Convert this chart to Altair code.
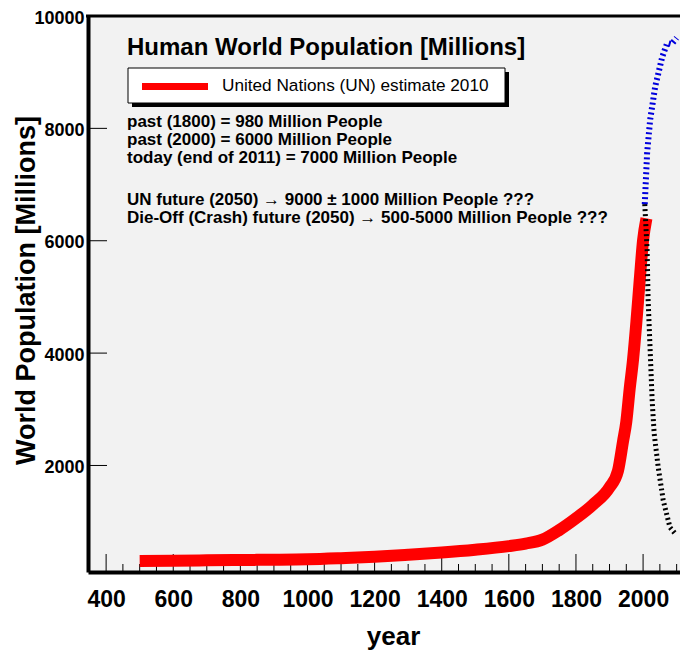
import altair as alt
import pandas as pd

# ---- data ----
red_years = [500, 600, 700, 800, 900, 1000, 1100, 1200, 1300, 1400, 1500, 1600, 1650,
             1700, 1750, 1800, 1850, 1900, 1925, 1940, 1950, 1960, 1970, 1980, 1990, 2000, 2010]
red_vals = [300, 305, 312, 318, 322, 330, 350, 375, 410, 450, 500, 565, 610,
            680, 850, 1060, 1300, 1610, 1900, 2420, 2780, 3360, 3880, 4550, 5300, 6010, 6400]

blue_years = [2005, 2012, 2021, 2036, 2057, 2072, 2085, 2100]
blue_vals = [6650, 7560, 8150, 8740, 9270, 9520, 9500, 9610]

black_years = [2005, 2012, 2015, 2021, 2027, 2033, 2045, 2060, 2080, 2095]
black_vals = [6650, 5840, 4950, 4060, 3160, 2570, 1970, 1380, 900, 790]

x_major = [400, 600, 800, 1000, 1200, 1400, 1600, 1800, 2000]
x_minor = [y for y in range(450, 2101, 50) if y % 200 != 0]
y_major = [2000, 4000, 6000, 8000, 10000]

title_text = "Human World Population [Millions]"
legend_text = "United Nations (UN) estimate 2010"
info_lines = [
    "past (1800) = 980 Million People",
    "past (2000) = 6000 Million People",
    "today (end of 2011) = 7000 Million People",
    "UN future (2050) \u2192 9000 \u00b1 1000 Million People ???",
    "Die-Off (Crash) future (2050) \u2192 500-5000 Million People ???",
]

FONT = "Liberation Sans"
W, H = 592, 556

xs = alt.Scale(domain=[346, 2110], nice=False, zero=False)
ys = alt.Scale(domain=[104, 10000], nice=False, zero=False)

red_df = pd.DataFrame({"year": red_years, "pop": red_vals})
blue_df = pd.DataFrame({"year": blue_years, "pop": blue_vals})
black_df = pd.DataFrame({"year": black_years, "pop": black_vals})
one = pd.DataFrame({"a": [0]})

base_axes = alt.Chart(red_df).mark_line(opacity=0).encode(
    x=alt.X("year:Q", scale=xs,
            axis=alt.Axis(title="year", values=x_major, format="d", ticks=False,
                          domainColor="black", domainWidth=4, grid=False,
                          labelFont=FONT, labelFontSize=23, labelFontWeight="bold",
                          labelColor="black", labelPadding=16,
                          titleFont=FONT, titleFontSize=26, titleFontWeight="bold",
                          titleColor="black", titleX=305, titleY=72,
                          titleBaseline="alphabetic", titleAlign="center")),
    y=alt.Y("pop:Q", scale=ys,
            axis=alt.Axis(title="World Population [Millions]", values=y_major, format="d",
                          ticks=False, domainColor="black", domainWidth=4, grid=False,
                          labelFont=FONT, labelFontSize=18, labelFontWeight="bold",
                          labelColor="black", labelPadding=4, labelOffset=2,
                          titleFont=FONT, titleFontSize=27, titleFontWeight="bold",
                          titleColor="black", titleX=-62, titleY=274,
                          titleBaseline="middle", titleAlign="center", titleAngle=270)),
)

top_border = alt.Chart(one).mark_rule(color="black", strokeWidth=3).encode(
    x=alt.value(-2), x2=alt.value(W), y=alt.value(0))

y_ticks = alt.Chart(pd.DataFrame({"v": y_major[:-1]})).mark_rule(color="black", strokeWidth=1).encode(
    y=alt.Y("v:Q", scale=ys), x=alt.value(0), x2=alt.value(19))
xmaj_ticks = alt.Chart(pd.DataFrame({"v": x_major})).mark_rule(color="black", strokeWidth=1).encode(
    x=alt.X("v:Q", scale=xs), y=alt.value(538), y2=alt.value(555))
xmin_ticks = alt.Chart(pd.DataFrame({"v": x_minor})).mark_rule(color="black", strokeWidth=1).encode(
    x=alt.X("v:Q", scale=xs), y=alt.value(548), y2=alt.value(555))

red_line = alt.Chart(red_df).mark_line(color="#ff0000", strokeWidth=12, interpolate="monotone").encode(
    x=alt.X("year:Q", scale=xs), y=alt.Y("pop:Q", scale=ys))
black_line = alt.Chart(black_df).mark_line(color="black", strokeWidth=5, strokeDash=[2, 3]).encode(
    x=alt.X("year:Q", scale=xs), y=alt.Y("pop:Q", scale=ys))
blue_line = alt.Chart(blue_df).mark_line(color="#0000dd", strokeWidth=6, strokeDash=[2, 3]).encode(
    x=alt.X("year:Q", scale=xs), y=alt.Y("pop:Q", scale=ys))

shadow = alt.Chart(one).mark_rect(color="black").encode(
    x=alt.value(44), x2=alt.value(421), y=alt.value(56), y2=alt.value(91))
box = alt.Chart(one).mark_rect(fill="white", stroke="black", strokeWidth=1).encode(
    x=alt.value(40), x2=alt.value(417), y=alt.value(52), y2=alt.value(87))
sample = alt.Chart(one).mark_rule(color="#ff0000", strokeWidth=7).encode(
    x=alt.value(54), x2=alt.value(120), y=alt.value(70.5))
leg_txt = alt.Chart(one).mark_text(text=legend_text, font=FONT, fontSize=17.2, align="left",
                                   baseline="alphabetic", color="black").encode(
    x=alt.value(134), y=alt.value(75))
title_mark = alt.Chart(one).mark_text(text=title_text, font=FONT, fontSize=24, fontWeight="bold",
                                      align="left", baseline="alphabetic", color="black").encode(
    x=alt.value(39), y=alt.value(39))

info_y = [111, 129, 147, 189, 207]
info_marks = [
    alt.Chart(one).mark_text(text=t, font=FONT, fontSize=17, fontWeight="bold", align="left",
                             baseline="alphabetic", color="black").encode(
        x=alt.value(39), y=alt.value(yy))
    for t, yy in zip(info_lines, info_y)
]

chart = alt.layer(
    base_axes, y_ticks, xmaj_ticks, xmin_ticks, red_line, black_line, blue_line,
    shadow, box, sample, leg_txt, title_mark, *info_marks, top_border
).properties(
    width=W, height=H,
    autosize=alt.AutoSizeParams(type="none"),
    padding={"left": 80, "top": 8, "right": 0, "bottom": 80},
    background="white",
).configure_view(stroke=None, fill="#f2f2f2")

chart.save("out.html", embed_options={"renderer": "svg", "actions": False})
